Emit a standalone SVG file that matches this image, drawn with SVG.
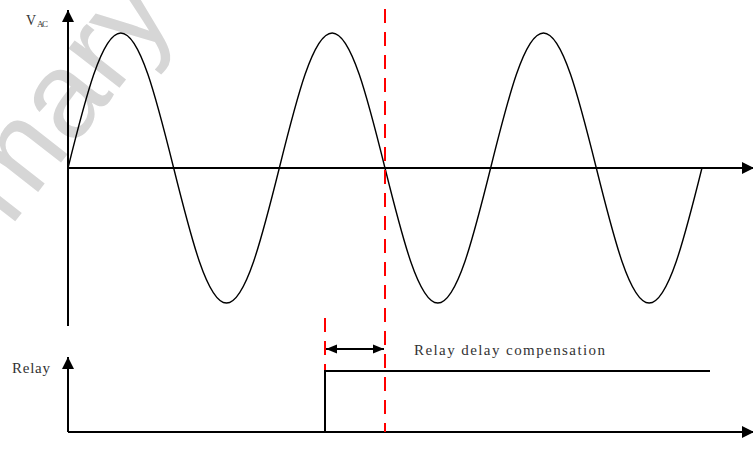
<svg xmlns="http://www.w3.org/2000/svg" width="753" height="456" viewBox="0 0 753 456">
<style>
.ax{stroke:#000;stroke-width:2;fill:none}
.wave{stroke:#000;stroke-width:1.4;fill:none}
.red{stroke:#ff0000;stroke-width:2;stroke-dasharray:14 9;fill:none}
.lbl{font-family:"Liberation Serif","DejaVu Serif",serif;fill:#333}
.wm{font-family:"Liberation Sans",Arial,sans-serif;font-size:122px;fill:#d6d6d6}
</style>
<defs>
<marker id="ah" markerUnits="userSpaceOnUse" markerWidth="14" markerHeight="14" refX="12" refY="6" orient="auto">
<path d="M0,0 L12,6 L0,12 Z" fill="#000"/>
</marker>
<marker id="sh" markerUnits="userSpaceOnUse" markerWidth="12" markerHeight="10" refX="11" refY="5" orient="auto-start-reverse">
<path d="M0,0.5 L11,5 L0,9.5 Z" fill="#000"/>
</marker>
</defs>
<g id="watermark"><text class="wm" transform="translate(10,228) rotate(-52)">mary</text></g>
<g id="connectors">
<line class="ax" x1="68" y1="326" x2="68" y2="10" marker-end="url(#ah)"/>
<line class="ax" x1="68" y1="168" x2="754" y2="168" marker-end="url(#ah)"/>
<line class="ax" x1="68" y1="432" x2="68" y2="357" marker-end="url(#ah)"/>
<line class="ax" x1="68" y1="432" x2="754" y2="432" marker-end="url(#ah)"/>
<path class="wave" d="M68,168 c17.23,-69.16 33.70,-135 52.83,-135 s35.60,65.84 52.83,135 s33.70,135 52.83,135 s35.60,-65.84 52.83,-135 s33.70,-135 52.83,-135 s35.60,65.84 52.83,135 s33.70,135 52.83,135 s35.60,-65.84 52.83,-135 s33.70,-135 52.83,-135 s35.60,65.84 52.83,135 s33.70,135 52.83,135 s35.60,-65.84 52.83,-135"/>
<line class="red" x1="385" y1="9" x2="385" y2="432"/>
<line class="red" x1="325" y1="318" x2="325" y2="372" stroke-dasharray="8 22 30"/>
<path d="M325,432 V371 H710" stroke="#000" stroke-width="2" fill="none"/>
<line x1="326" y1="349" x2="384" y2="349" stroke="#000" stroke-width="2" marker-start="url(#sh)" marker-end="url(#sh)"/>
</g>
<g id="label-vac"><text class="lbl" x="26" y="25" font-size="14">V</text><text class="lbl" x="37" y="27" font-size="9" textLength="11" lengthAdjust="spacing">AC</text></g>
<g id="label-relay"><text class="lbl" x="12" y="373" font-size="15" textLength="38" lengthAdjust="spacing">Relay</text></g>
<g id="label-comp"><text class="lbl" x="414" y="355" font-size="15" textLength="191" lengthAdjust="spacing">Relay delay compensation</text></g>
</svg>
